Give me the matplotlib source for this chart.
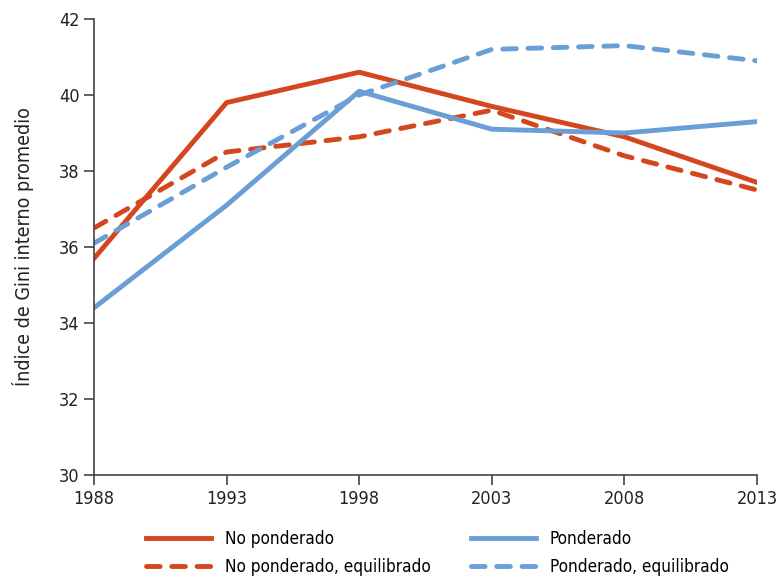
import matplotlib
matplotlib.use('Agg')
import matplotlib.pyplot as plt

# datos
anios = [1988, 1993, 1998, 2003, 2008, 2013]
no_ponderado = [35.7, 39.8, 40.6, 39.7, 38.9, 37.7]
ponderado = [34.4, 37.1, 40.1, 39.1, 39.0, 39.3]
no_ponderado_eq = [36.5, 38.5, 38.9, 39.6, 38.4, 37.5]
ponderado_eq = [36.1, 38.1, 40.0, 41.2, 41.3, 40.9]

rojo = '#D4461E'
azul = '#6A9ED6'

plt.rcParams['font.family'] = ['DejaVu Sans']
plt.rcParams['font.stretch'] = 'condensed'

fig = plt.figure(figsize=(7.77, 5.76), dpi=100)
ax = fig.add_axes([94/777, 1 - 475/576, (757 - 94)/777, (475 - 19)/576])

guiones = (0, (2.8, 2.4))
ax.plot(anios, no_ponderado, color=rojo, lw=3.5, label='No ponderado')
ax.plot(anios, no_ponderado_eq, color=rojo, lw=3.5, ls=guiones, dash_capstyle='round',
        label='No ponderado, equilibrado')
ax.plot(anios, ponderado, color=azul, lw=3.5, label='Ponderado')
ax.plot(anios, ponderado_eq, color=azul, lw=3.5, ls=guiones, dash_capstyle='round',
        label='Ponderado, equilibrado')

ax.set_xlim(1988, 2013)
ax.set_ylim(30, 42)
ax.set_xticks(anios)
ax.set_yticks(range(30, 43, 2))
ax.tick_params(axis='both', labelsize=13, color='#444444', length=7, width=1.2, labelcolor='#222222')
for s in ['top', 'right']:
    ax.spines[s].set_visible(False)
for s in ['left', 'bottom']:
    ax.spines[s].set_color('#444444')
    ax.spines[s].set_linewidth(1.2)

ax.set_ylabel('Índice de Gini interno promedio', fontsize=14, color='#222222', labelpad=18)

handles, labels = ax.get_legend_handles_labels()
fig.legend(handles, labels, loc='lower center', bbox_to_anchor=(0.563, -0.027), ncol=2,
           frameon=False, fontsize=12.3, handlelength=3.8, columnspacing=2.4, handletextpad=0.8,
           labelspacing=0.6)

fig.savefig('out.png', dpi=100)
